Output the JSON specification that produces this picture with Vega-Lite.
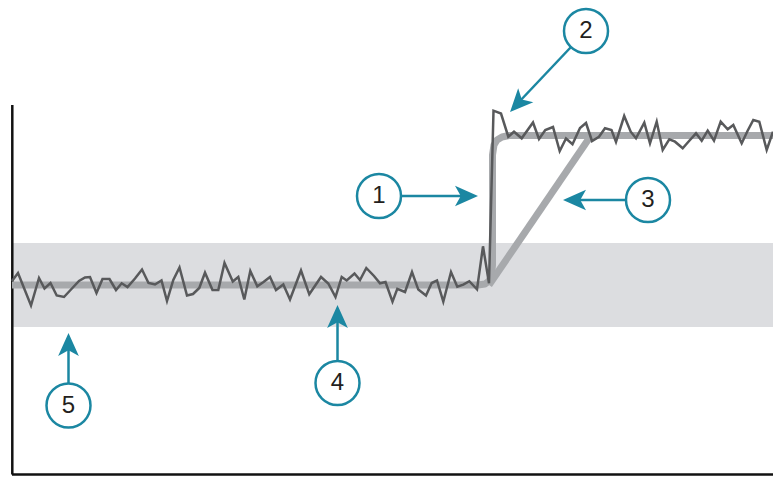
{
  "$schema": "https://vega.github.io/schema/vega-lite/v6.json",
  "width": 773,
  "height": 479,
  "autosize": {"type": "none"},
  "padding": 0,
  "background": "white",
  "config": {"view": {"stroke": null}},
  "datasets": {
    "band": [{"x": 12, "x2": 773, "y": 243, "y2": 327}],
    "axes": [
      {"x": 12.3, "y": 105, "x2": 12.3, "y2": 474.5},
      {"x": 12, "y": 474.5, "x2": 773, "y2": 474.5}
    ],
    "ideal": [
      {"s": "step", "i": 0, "x": 12, "y": 285},
      {"s": "step", "i": 1, "x": 478, "y": 285},
      {"s": "step", "i": 2, "x": 485, "y": 284},
      {"s": "step", "i": 3, "x": 489, "y": 281},
      {"s": "step", "i": 4, "x": 491.5, "y": 276},
      {"s": "step", "i": 5, "x": 492.5, "y": 265},
      {"s": "step", "i": 6, "x": 492.5, "y": 155},
      {"s": "step", "i": 7, "x": 494, "y": 145},
      {"s": "step", "i": 8, "x": 497, "y": 140},
      {"s": "step", "i": 9, "x": 502, "y": 137},
      {"s": "step", "i": 10, "x": 509, "y": 135.5},
      {"s": "step", "i": 11, "x": 773, "y": 135.5},
      {"s": "ramp", "i": 0, "x": 489, "y": 285},
      {"s": "ramp", "i": 1, "x": 591, "y": 135.5}
    ],
    "signal": [
      {"x": 12, "y": 281}, {"x": 18, "y": 273}, {"x": 31, "y": 305.5}, {"x": 39, "y": 278},
      {"x": 44.5, "y": 288.5}, {"x": 50.5, "y": 283}, {"x": 56.7, "y": 295.5}, {"x": 64, "y": 297},
      {"x": 71, "y": 289.5}, {"x": 79, "y": 281}, {"x": 85, "y": 277.5}, {"x": 90, "y": 277},
      {"x": 96.5, "y": 293}, {"x": 102.5, "y": 279}, {"x": 109.5, "y": 279}, {"x": 116, "y": 290},
      {"x": 121.7, "y": 283.3}, {"x": 127.5, "y": 287}, {"x": 135, "y": 278.5}, {"x": 142, "y": 269.5},
      {"x": 148.5, "y": 283}, {"x": 155, "y": 284.5}, {"x": 161.5, "y": 280.5}, {"x": 167, "y": 301},
      {"x": 173.3, "y": 280}, {"x": 179.5, "y": 267.5}, {"x": 187, "y": 295.5}, {"x": 193, "y": 294},
      {"x": 199.3, "y": 288}, {"x": 205, "y": 272.7}, {"x": 212.5, "y": 290}, {"x": 218.3, "y": 290},
      {"x": 224.5, "y": 263}, {"x": 232.8, "y": 281.5}, {"x": 238.3, "y": 277}, {"x": 244.3, "y": 299.5},
      {"x": 250.3, "y": 271}, {"x": 257.3, "y": 286.3}, {"x": 263.5, "y": 282}, {"x": 270, "y": 277},
      {"x": 276, "y": 290}, {"x": 283.3, "y": 284.5}, {"x": 290, "y": 299.5}, {"x": 301, "y": 270.5},
      {"x": 309.3, "y": 294.3}, {"x": 321, "y": 277}, {"x": 328.3, "y": 283.5}, {"x": 335.5, "y": 297},
      {"x": 341.7, "y": 277}, {"x": 346.7, "y": 280.5}, {"x": 354.5, "y": 273.5}, {"x": 360, "y": 280},
      {"x": 366.3, "y": 268}, {"x": 374, "y": 276}, {"x": 380, "y": 283.3}, {"x": 385.5, "y": 282},
      {"x": 392.5, "y": 301.7}, {"x": 397.3, "y": 288.8}, {"x": 405, "y": 292}, {"x": 412, "y": 272},
      {"x": 418.3, "y": 289.6}, {"x": 426, "y": 295.5}, {"x": 431.7, "y": 283}, {"x": 437, "y": 280.5},
      {"x": 443.3, "y": 301.7}, {"x": 451, "y": 272}, {"x": 457.3, "y": 286.7}, {"x": 463.3, "y": 284.6},
      {"x": 469.3, "y": 281.2}, {"x": 477, "y": 289.3}, {"x": 483, "y": 246.3}, {"x": 489, "y": 283.3},
      {"x": 493.5, "y": 110.7}, {"x": 501, "y": 113.5}, {"x": 508.3, "y": 136.7}, {"x": 514, "y": 131.7},
      {"x": 521.7, "y": 138.3}, {"x": 533, "y": 122.5}, {"x": 539, "y": 139}, {"x": 545.3, "y": 130},
      {"x": 553, "y": 127}, {"x": 559.7, "y": 151}, {"x": 566, "y": 138.5}, {"x": 572.5, "y": 144.2},
      {"x": 580, "y": 128}, {"x": 586, "y": 123}, {"x": 592, "y": 141}, {"x": 599, "y": 136.7},
      {"x": 605, "y": 128.3}, {"x": 611.5, "y": 130}, {"x": 616, "y": 142}, {"x": 624.2, "y": 116},
      {"x": 630.7, "y": 131.7}, {"x": 636, "y": 138.3}, {"x": 644.3, "y": 122.7}, {"x": 650, "y": 143.3},
      {"x": 656.7, "y": 121.7}, {"x": 662.7, "y": 150}, {"x": 669.3, "y": 139.3}, {"x": 675, "y": 141.7},
      {"x": 682.7, "y": 148.3}, {"x": 689.3, "y": 140.7}, {"x": 696, "y": 133.3}, {"x": 701.7, "y": 140.7},
      {"x": 707.7, "y": 130.7}, {"x": 714, "y": 140.7}, {"x": 720.7, "y": 121.7}, {"x": 727.7, "y": 129.3},
      {"x": 733.3, "y": 125}, {"x": 741.7, "y": 143.3}, {"x": 747.5, "y": 131}, {"x": 753.3, "y": 120},
      {"x": 759.3, "y": 121.7}, {"x": 766.7, "y": 150}, {"x": 773, "y": 131.7}
    ],
    "shafts": [
      {"n": "1", "x": 401, "y": 196, "x2": 468, "y2": 196},
      {"n": "2", "x": 571, "y": 47, "x2": 519, "y2": 102},
      {"n": "3", "x": 626, "y": 200, "x2": 573, "y2": 200},
      {"n": "4", "x": 337.5, "y": 361, "x2": 337.5, "y2": 318},
      {"n": "5", "x": 68.5, "y": 383.5, "x2": 68.5, "y2": 346}
    ],
    "heads": [
      {"n": "1", "x": 466.5, "y": 196, "a": 90},
      {"n": "2", "x": 517.9, "y": 103.6, "a": 223},
      {"n": "3", "x": 574.5, "y": 200, "a": 270},
      {"n": "4", "x": 337.5, "y": 316.5, "a": 0},
      {"n": "5", "x": 68.5, "y": 344.5, "a": 0}
    ],
    "labels": [
      {"n": "1", "x": 379, "y": 196},
      {"n": "2", "x": 586, "y": 31},
      {"n": "3", "x": 648, "y": 200},
      {"n": "4", "x": 337.5, "y": 383},
      {"n": "5", "x": 68.5, "y": 405.5}
    ]
  },
  "encoding": {
    "x": {"field": "x", "type": "quantitative", "scale": {"domain": [0, 773], "nice": false, "zero": false}, "axis": null},
    "y": {"field": "y", "type": "quantitative", "scale": {"domain": [0, 479], "nice": false, "zero": false, "reverse": true}, "axis": null}
  },
  "layer": [
    {
      "data": {"name": "band"},
      "mark": {"type": "rect", "color": "#dcdde0"},
      "encoding": {"x2": {"field": "x2"}, "y2": {"field": "y2"}}
    },
    {
      "data": {"name": "axes"},
      "mark": {"type": "rule", "color": "#111111", "strokeWidth": 2.5},
      "encoding": {"x2": {"field": "x2"}, "y2": {"field": "y2"}}
    },
    {
      "data": {"name": "ideal"},
      "mark": {"type": "line", "color": "#a7a9ac", "strokeWidth": 7, "strokeJoin": "round", "strokeCap": "butt"},
      "encoding": {"detail": {"field": "s"}, "order": {"field": "i", "type": "quantitative"}}
    },
    {
      "data": {"name": "signal"},
      "mark": {"type": "line", "color": "#58595b", "strokeWidth": 2.5, "strokeJoin": "miter"},
      "encoding": {}
    },
    {
      "data": {"name": "shafts"},
      "mark": {"type": "rule", "color": "#1b87a2", "strokeWidth": 2.5},
      "encoding": {"x2": {"field": "x2"}, "y2": {"field": "y2"}}
    },
    {
      "data": {"name": "heads"},
      "mark": {"type": "point", "shape": "M0,-1L0.9,1L0,0.5L-0.9,1Z", "size": 529, "filled": true, "color": "#1b87a2", "opacity": 1},
      "encoding": {"angle": {"field": "a", "type": "quantitative", "scale": null}}
    },
    {
      "data": {"name": "labels"},
      "mark": {"type": "point", "shape": "circle", "size": 1936, "filled": true, "fill": "white", "stroke": "#1b87a2", "strokeWidth": 2.5, "opacity": 1}
    },
    {
      "data": {"name": "labels"},
      "mark": {"type": "text", "font": "Liberation Sans", "fontSize": 24, "color": "#231f20", "align": "center", "baseline": "middle"},
      "encoding": {"text": {"field": "n"}}
    }
  ]
}
